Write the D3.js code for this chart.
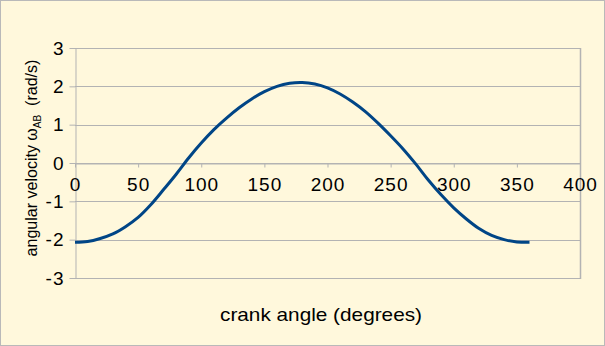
<!DOCTYPE html>
<html>
<head>
<meta charset="utf-8">
<script src="https://cdn.jsdelivr.net/npm/d3@7"></script>
<style>
  body { margin: 0; background: #fff8dc; }
  svg { display: block; font-family: "Liberation Sans", Arial, sans-serif; }
</style>
</head>
<body>
<div id="chart"></div>
<script>
// crank angle (degrees) and angular velocity of link AB (rad/s)
const angles = [0, 10, 20, 30, 40, 50, 60, 70, 80, 90, 100, 110, 120, 130, 140, 150, 160, 170, 180,
    190, 200, 210, 220, 230, 240, 250, 260, 270, 280, 290, 300, 310, 320, 330, 340, 350, 360];
const omegaAB = [-2.07, -2.05, -1.97, -1.85, -1.66, -1.42, -1.09, -0.70, -0.30, 0.13, 0.52, 0.87, 1.17,
    1.44, 1.67, 1.86, 2.00, 2.08, 2.10, 2.06, 1.96, 1.80, 1.59, 1.34, 1.04, 0.71, 0.36, -0.03,
    -0.45, -0.83, -1.17, -1.46, -1.71, -1.89, -2.00, -2.06, -2.07];
const xTicks = [0, 50, 100, 150, 200, 250, 300, 350, 400];
const yTicks = [-3, -2, -1, 0, 1, 2, 3];

const W = 605, H = 346;
const plot = { left: 75, right: 580, top: 48, bottom: 278 };
const gridColor = "#b3b3b3";

const svg = d3.select("#chart").append("svg")
    .attr("width", W)
    .attr("height", H);

// background + outer frame
svg.append("rect")
    .attr("x", 0.5).attr("y", 0.5)
    .attr("width", W - 1).attr("height", H - 1)
    .attr("fill", "#fff8dc")
    .attr("stroke", "#b9b9b9");

const x = d3.scaleLinear().domain([0, 400]).range([plot.left, plot.right]);
const y = d3.scaleLinear().domain([-3, 3]).range([plot.bottom, plot.top]);

// horizontal gridlines
svg.append("g").selectAll("line")
    .data(yTicks)
    .enter().append("line")
    .attr("x1", plot.left)
    .attr("x2", plot.right)
    .attr("y1", d => Math.round(y(d)) + 0.5)
    .attr("y2", d => Math.round(y(d)) + 0.5)
    .attr("stroke", gridColor);

// right border of the plot wall
svg.append("line")
    .attr("x1", plot.right + 0.5).attr("x2", plot.right + 0.5)
    .attr("y1", plot.top).attr("y2", plot.bottom + 1)
    .attr("stroke", gridColor)
    .attr("stroke-width", 1.5);

// y axis
const yAxis = d3.axisLeft(y)
    .tickValues(yTicks)
    .tickFormat(d => String(d))
    .tickSize(6)
    .tickSizeOuter(0)
    .tickPadding(5);

const yg = svg.append("g")
    .attr("transform", "translate(" + (plot.left + 0.5) + ",0)")
    .call(yAxis);
yg.selectAll("path, line").attr("stroke", gridColor);
yg.selectAll("text")
    .attr("fill", "#000")
    .style("font-size", "19px")
    .style("letter-spacing", "1px");

// x axis sits on the zero line
const xAxis = d3.axisBottom(x)
    .tickValues(xTicks)
    .tickFormat(d => String(d))
    .tickSize(4)
    .tickSizeOuter(0)
    .tickPadding(10);

const xg = svg.append("g")
    .attr("transform", "translate(0," + (Math.round(y(0)) + 0.5) + ")")
    .call(xAxis);
xg.selectAll("path, line").attr("stroke", gridColor);
xg.selectAll("text")
    .attr("fill", "#000")
    .style("font-size", "19px")
    .style("letter-spacing", "1px");

// the curve
const line = d3.line()
    .x((d, i) => x(angles[i]))
    .y(d => y(d))
    .curve(d3.curveCatmullRom);

svg.append("path")
    .datum(omegaAB)
    .attr("fill", "none")
    .attr("stroke", "#004586")
    .attr("stroke-width", 3)
    .attr("d", line);

// x axis title
svg.append("text")
    .attr("x", 321)
    .attr("y", 321)
    .attr("text-anchor", "middle")
    .style("font-size", "19px")
    .attr("textLength", 202)
    .attr("lengthAdjust", "spacingAndGlyphs")
    .text("crank angle (degrees)");

// y axis title, rotated and squeezed to the narrow look
const yTitle = svg.append("text")
    .attr("text-anchor", "middle")
    .style("font-size", "16px");
yTitle.append("tspan").text("angular velocity ω");
yTitle.append("tspan").attr("dy", 4).style("font-size", "10px").text("AB");
yTitle.append("tspan").attr("dy", -4).text("\u00a0\u00a0(rad/s)");

const titleLen = yTitle.node().getComputedTextLength();
const sx = 197 / titleLen;
yTitle.attr("transform", "translate(37,158) rotate(-90) scale(" + sx + ",1)");
</script>
</body>
</html>
